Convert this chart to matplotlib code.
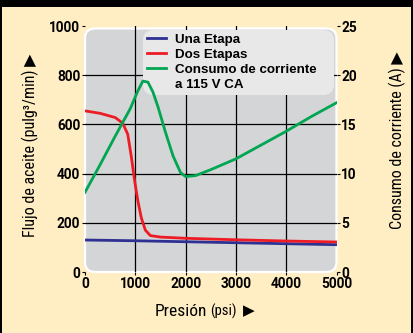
import matplotlib.pyplot as plt
from matplotlib.patches import FancyBboxPatch, Rectangle
from matplotlib.lines import Line2D
import logging

logging.getLogger('matplotlib.font_manager').setLevel(logging.ERROR)

# presión (psi) vs flujo (pulg3/min) y consumo (A)
p_una = [0, 1000, 2000, 3000, 4000, 5000]
flujo_una = [130, 127, 123, 119, 115, 111]

p_dos = [0, 300, 600, 750, 850, 920, 980, 1050, 1120, 1200, 1300, 1500,
         2000, 3000, 4000, 5000]
flujo_dos = [655, 645, 628, 605, 560, 470, 380, 290, 220, 170, 148, 142,
             137, 131, 126, 122]

p_corr = [0, 300, 600, 900, 1050, 1150, 1250, 1350, 1450, 1600, 1750, 1900,
          2000, 2200, 2500, 3000, 3500, 4000, 4500, 5000]
amps = [8.1, 10.9, 13.8, 16.6, 18.4, 19.4, 19.3, 18.3, 16.8, 14.2, 11.8, 10.1,
        9.7, 9.8, 10.4, 11.5, 12.9, 14.3, 15.8, 17.2]

x_ticks = [0, 1000, 2000, 3000, 4000, 5000]
y_ticks = [0, 200, 400, 600, 800, 1000]
y2_ticks = [0, 5, 10, 15, 20, 25]

CREAM = '#FFEDC3'
GRAY = '#D4D5D7'
NARROW = ['Roboto Condensed', 'Liberation Sans Narrow', 'Roboto', 'DejaVu Sans']
BOLD = ['Roboto', 'DejaVu Sans']
LEGFONT = ['Liberation Sans', 'DejaVu Sans']

fig = plt.figure(figsize=(4.14, 3.33), dpi=100, facecolor=CREAM)

# marco negro
fig.patches.append(Rectangle((0, 1 - 7 / 333), 1, 7 / 333, transform=fig.transFigure,
                             fc='black', ec='none', zorder=0))
fig.patches.append(Rectangle((0, 0), 2.5 / 414, 1, transform=fig.transFigure,
                             fc='black', ec='none', zorder=0))
fig.patches.append(Rectangle((1 - 2.5 / 414, 0), 2.5 / 414, 1, transform=fig.transFigure,
                             fc='black', ec='none', zorder=0))

ax = fig.add_axes([85 / 414, 1 - 272 / 333, 251.5 / 414, 246 / 333])
ax.set_facecolor('none')
ax.set_xlim(0, 5000)
ax.set_ylim(0, 1000)
for s in ax.spines.values():
    s.set_visible(False)

ax.add_patch(FancyBboxPatch((0, 0), 1, 0.99, transform=ax.transAxes,
                            boxstyle='round,pad=0,rounding_size=0.04',
                            mutation_aspect=1.0, fc=GRAY, ec='white', lw=1.6,
                            zorder=0, clip_on=False))
for v in x_ticks[1:-1]:
    ax.axvline(v, color='black', lw=0.9, zorder=1, ymax=1.0)
for v in y_ticks[1:-1]:
    ax.axhline(v, color='black', lw=0.9, zorder=1)

ax.plot(p_una, flujo_una, color='#2E3192', lw=2.0, zorder=3)
ax.plot(p_dos, flujo_dos, color='#ED1C24', lw=2.0, zorder=3)

# la leyenda va en el eje de abajo: la curva verde pasa por encima
handles = [Line2D([], [], color='#2E3192', lw=2.0),
           Line2D([], [], color='#ED1C24', lw=2.0),
           Line2D([], [], color='#00A651', lw=2.0),
           Line2D([], [], color='none')]
labels = ['Una Etapa', 'Dos Etapas', 'Consumo de corriente', 'a 115 V CA']
leg = ax.legend(handles, labels, loc='upper left', mode='expand',
                bbox_to_anchor=(0.23, 0.985, 0.76, 0),
                borderaxespad=0, fancybox=True, framealpha=1, facecolor='#E8E8E9',
                edgecolor='none', handlelength=1.45, handletextpad=0.65,
                labelspacing=0.2, borderpad=0.3,
                prop={'family': LEGFONT, 'weight': 'bold', 'size': 9.6})
leg.get_frame().set_boxstyle('round,pad=0,rounding_size=0.8')
leg.set_zorder(5)

ax2 = ax.twinx()
ax2.set_ylim(0, 25)
for s in ax2.spines.values():
    s.set_visible(False)
ax2.plot(p_corr, amps, color='#00A651', lw=2.0, zorder=3)

ax.set_xticks(x_ticks)
ax.set_yticks(y_ticks)
ax2.set_yticks(y2_ticks)
for a in (ax, ax2):
    a.tick_params(length=2.5, width=0.8, pad=1, colors='black')
    for lab in a.get_xticklabels() + a.get_yticklabels():
        lab.set_family(BOLD)
        lab.set_weight('bold')
        lab.set_fontsize(9.8)

fig.text(30 / 414, 1 - 145 / 333, 'Flujo de aceite (pulg³/min) \u25B6',
         rotation=90, ha='center', va='center', fontsize=11.5, family=NARROW)
fig.text(397 / 414, 1 - 140 / 333, 'Consumo de corriente (A) \u25B6',
         rotation=90, ha='center', va='center', fontsize=11.5, family=NARROW)

ytxt = 1 - 311 / 333
fig.text(207 / 414, ytxt, 'Presión', ha='right', va='center', fontsize=12.5, family=NARROW)
fig.text(210 / 414, ytxt, '(psi)', ha='left', va='center', fontsize=10.5, family=NARROW)
fig.text(243 / 414, ytxt, '\u25B6', ha='left', va='center', fontsize=11, family=['DejaVu Sans'])

fig.savefig('out.png', dpi=100, facecolor=CREAM)
